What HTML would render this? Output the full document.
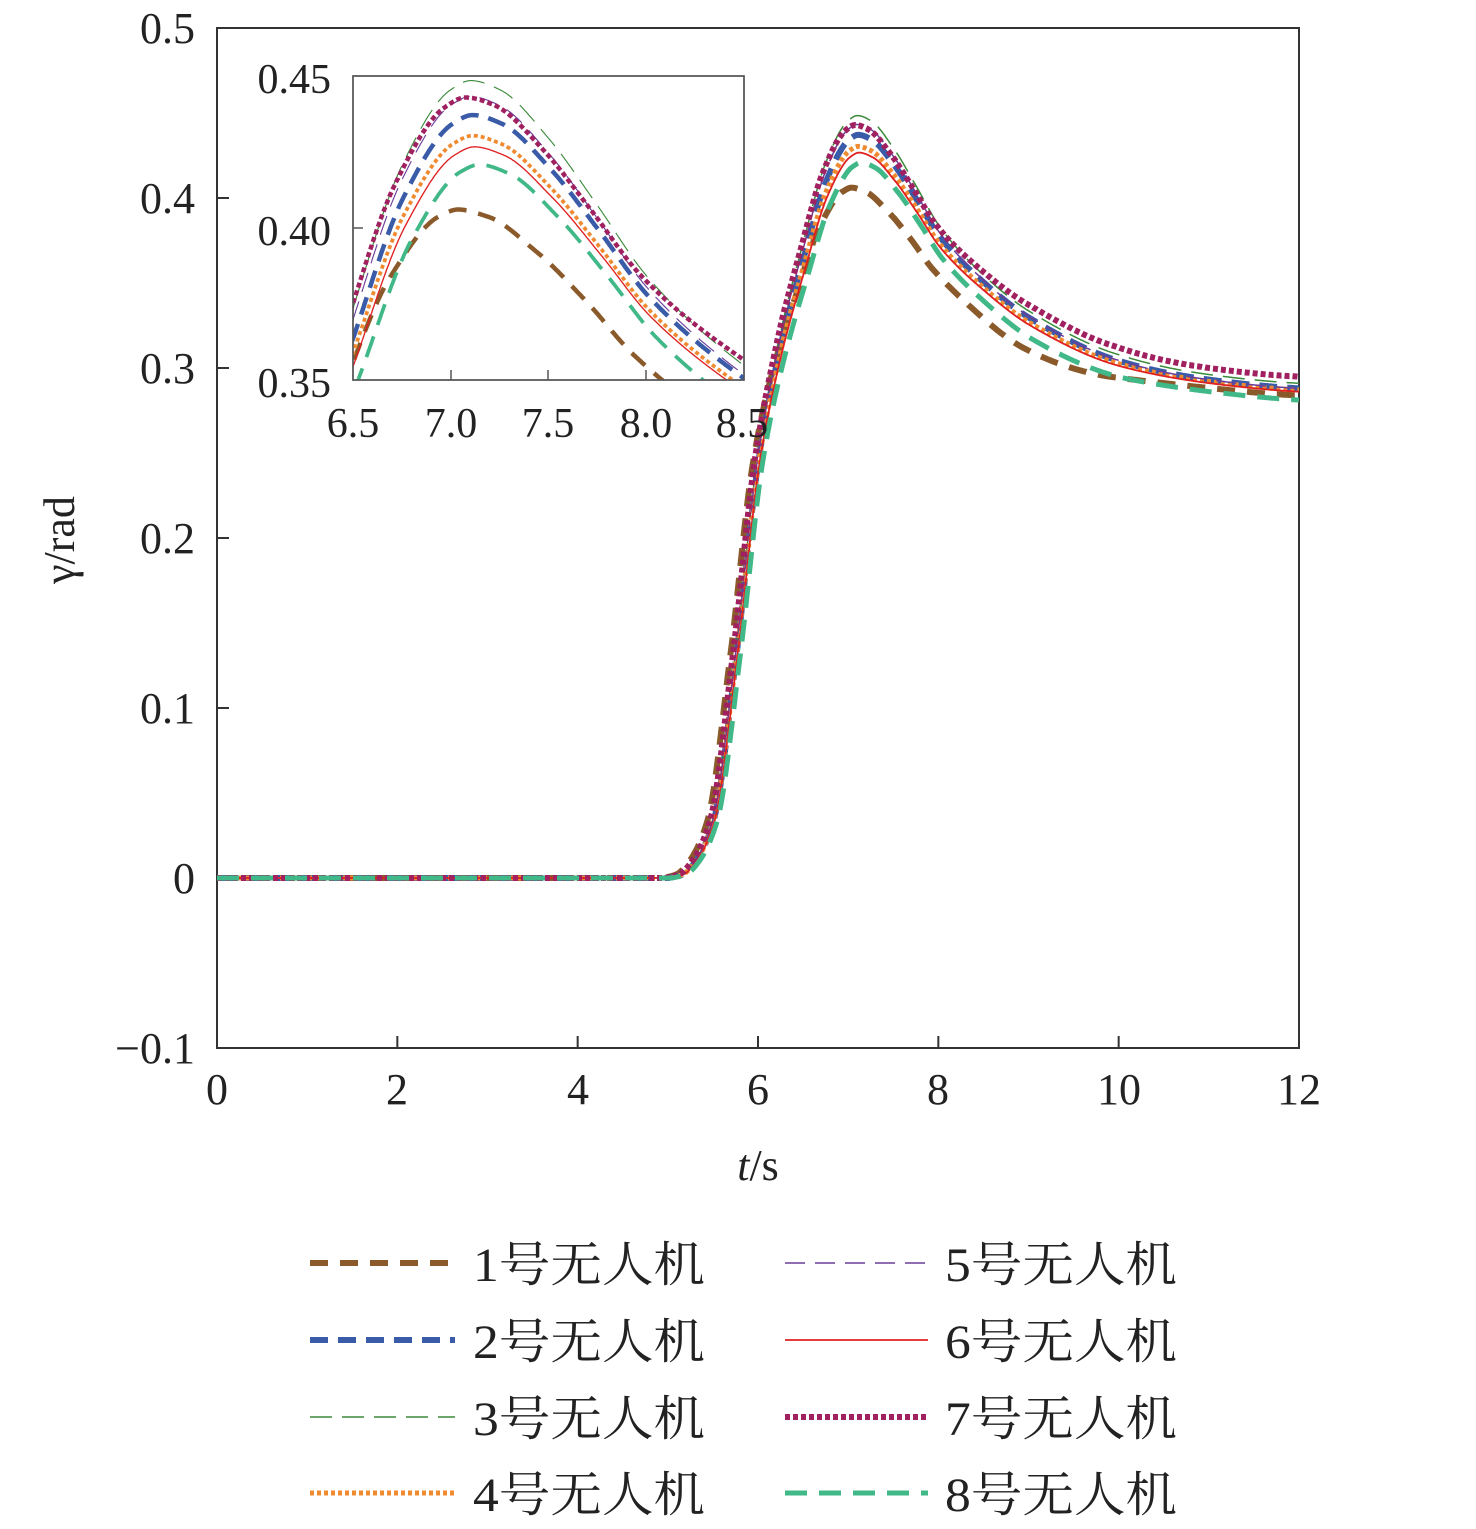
<!DOCTYPE html>
<html><head><meta charset="utf-8"><style>
body{margin:0;background:#fff;}
svg text{font-family:"Liberation Serif","Times New Roman","Noto Serif CJK SC",serif;fill:#222;}
</style></head><body>
<svg id="s" width="1476" height="1524" viewBox="0 0 1476 1524" xmlns="http://www.w3.org/2000/svg">
<defs>
<clipPath id="cm"><rect x="217" y="28" width="1082" height="1020"/></clipPath>
<clipPath id="ci"><rect x="353" y="76" width="391" height="304"/></clipPath>
</defs>
<rect x="217" y="28" width="1082" height="1020" fill="none" stroke="#333" stroke-width="2"/>
<g id="ticks" stroke="#333" stroke-width="2"></g>
<g font-size="44" text-anchor="end">
<text x="195" y="43">0.5</text><text x="195" y="213">0.4</text><text x="195" y="383">0.3</text>
<text x="195" y="553">0.2</text><text x="195" y="723">0.1</text><text x="195" y="893">0</text>
<text x="195" y="1063">−0.1</text>
</g>
<g font-size="44" text-anchor="middle">
<text x="217" y="1104">0</text><text x="397" y="1104">2</text><text x="578" y="1104">4</text>
<text x="758" y="1104">6</text><text x="938" y="1104">8</text><text x="1119" y="1104">10</text>
<text x="1299" y="1104">12</text>
</g>
<text x="758" y="1180" font-size="44" text-anchor="middle"><tspan font-style="italic">t</tspan>/s</text>
<text transform="translate(74,540) rotate(-90)" font-size="44" text-anchor="middle">γ/rad</text>
<g id="main" clip-path="url(#cm)"></g>
<rect x="353" y="76" width="391" height="304" fill="#fff" stroke="#555" stroke-width="1.5"/>
<g id="inset" clip-path="url(#ci)"></g>
<rect x="353" y="76" width="391" height="304" fill="none" stroke="#555" stroke-width="1.5"/>
<g stroke="#555" stroke-width="1.5">
<line x1="451" y1="380" x2="451" y2="370"/><line x1="548" y1="380" x2="548" y2="370"/>
<line x1="646" y1="380" x2="646" y2="370"/><line x1="353" y1="228" x2="363" y2="228"/>
</g>
<g font-size="42" text-anchor="end">
<text x="331" y="93">0.45</text><text x="331" y="245">0.40</text><text x="331" y="397">0.35</text>
</g>
<g font-size="42" text-anchor="middle">
<text x="353" y="437">6.5</text><text x="451" y="437">7.0</text><text x="548" y="437">7.5</text>
<text x="646" y="437">8.0</text><text x="742" y="437">8.5</text>
</g>
<g id="leg"></g>
</svg>
<script>
var NS="http://www.w3.org/2000/svg";
function el(p,n,a){var e=document.createElementNS(NS,n);for(var k in a)e.setAttribute(k,a[k]);p.appendChild(e);return e;}
var tk=document.getElementById('ticks');
for(var i=0;i<=6;i++){var y=28+i*170;el(tk,'line',{x1:217,y1:y,x2:229,y2:y});}
for(var i=1;i<6;i++){var x=217+i*1082/6;el(tk,'line',{x1:x,y1:1048,x2:x,y2:1036});}
// key points of reference (red) curve
var K=[[5,0],[5.15,0.002],[5.3,0.01],[5.5,0.034],[5.75,0.13],[6,0.245],[6.25,0.31],[6.5,0.358],[6.75,0.401],[7,0.424],[7.1,0.4267],[7.25,0.424],[7.5,0.41],[7.75,0.391],[8,0.371],[8.5,0.345],[9,0.325],[10,0.301],[11,0.291],[12,0.286],[12.5,0.285]];
var n=K.length,X=K.map(function(p){return p[0]}),Y=K.map(function(p){return p[1]});
var d=[],m=[];for(var i=0;i<n-1;i++)d.push((Y[i+1]-Y[i])/(X[i+1]-X[i]));
m[0]=d[0];m[n-1]=d[n-2];
for(var i=1;i<n-1;i++){if(d[i-1]*d[i]<=0)m[i]=0;else{var w1=2*(X[i+1]-X[i])+(X[i]-X[i-1]),w2=(X[i+1]-X[i])+2*(X[i]-X[i-1]);m[i]=(w1+w2)/(w1/d[i-1]+w2/d[i]);}}
function red(t){if(t<=5)return 0;if(t>=12.5)return 0.285;var i=0;while(X[i+1]<t)i++;var h=X[i+1]-X[i],s=(t-X[i])/h;
var h00=2*s*s*s-3*s*s+1,h10=s*s*s-2*s*s+s,h01=-2*s*s*s+3*s*s,h11=s*s*s-s*s;return h00*Y[i]+h10*h*m[i]+h01*Y[i+1]+h11*h*m[i+1];}
function cl(v){return v<0?0:v>1?1:v;}
var S=[
 {c:'#8B5A2B',w:6,d:'18 12',dp:-0.019,bw:0.8,df:-0.002,mid:-0.012,dl:-0.06},
 {c:'#3A5BA8',w:6,d:'18 10',dp:0.010,bw:1.0,df:0.002,mid:0.003,dl:0.01},
 {c:'#3A8A3A',w:1.5,d:'22 10',dp:0.021,bw:1.0,df:0.005,mid:0.005,dl:0.0},
 {c:'#F08A30',w:5,d:'4 3',dp:0.0035,bw:1.0,df:0.001,mid:0.001,dl:0.01},
 {c:'#6A3D9A',w:1.5,d:'20 10',dp:0.016,bw:1.0,df:0.002,mid:0.004,dl:0.0},
 {c:'#E02020',w:1.8,d:'',dp:0,bw:1,df:0,mid:0,dl:0.02},
 {c:'#A02060',w:6,d:'5 3',dp:0.015,bw:1.0,df:0.009,mid:0.007,dl:-0.03},
 {c:'#40B888',w:5,d:'22 12',dp:-0.005,bw:1.0,df:-0.005,mid:-0.005,dl:0.05}
];
function f(t,o){var tt=t-o.dl;var v=red(tt);if(tt<=5)return 0;var g=Math.pow(cl((tt-5)/1.3),2);
 var bell=Math.exp(-Math.pow((tt-7.05)/o.bw,2));var midb=Math.exp(-Math.pow((tt-8.8)/1.2,2));var st=cl((tt-7)/3);
 return v+g*(o.dp*bell+o.mid*midb+o.df*st);}
var gm=document.getElementById('main'),gi=document.getElementById('inset');
S.forEach(function(o){
 var p='',q='';
 for(var t=0;t<=12.001;t+=0.01){var v=f(t,o);var x=217+t*1082/12,y=878-v*1700;p+=(p?'L':'M')+x.toFixed(1)+','+y.toFixed(1);}
 for(var t=6.45;t<=8.55;t+=0.005){var v=f(t,o);var x=353+(t-6.5)*195.5,y=76+(0.45-v)*3040;q+=(q?'L':'M')+x.toFixed(1)+','+y.toFixed(1);}
 var a={d:p,fill:'none',stroke:o.c,'stroke-width':o.w};if(o.d)a['stroke-dasharray']=o.d;
 el(gm,'path',a);
 var b={d:q,fill:'none',stroke:o.c,'stroke-width':o.w*0.75};if(o.d)b['stroke-dasharray']=o.d;
 el(gi,'path',b);
});
var lg=document.getElementById('leg');
var rows=[1263,1340,1417,1493];
S.forEach(function(o,i){var col=i<4?0:1,r=i%4;var x0=col?785:310,x1=col?928:455,tx=col?945:473;
 var a={x1:x0,y1:rows[r],x2:x1,y2:rows[r],stroke:o.c,'stroke-width':o.w};if(o.d)a['stroke-dasharray']=o.d;
 el(lg,'line',a);
 var t=el(lg,'text',{x:tx,y:rows[r]+18,'font-size':48,textLength:232,lengthAdjust:'spacingAndGlyphs'});t.textContent=(i+1)+'号无人机';
});
</script>
</body></html>
